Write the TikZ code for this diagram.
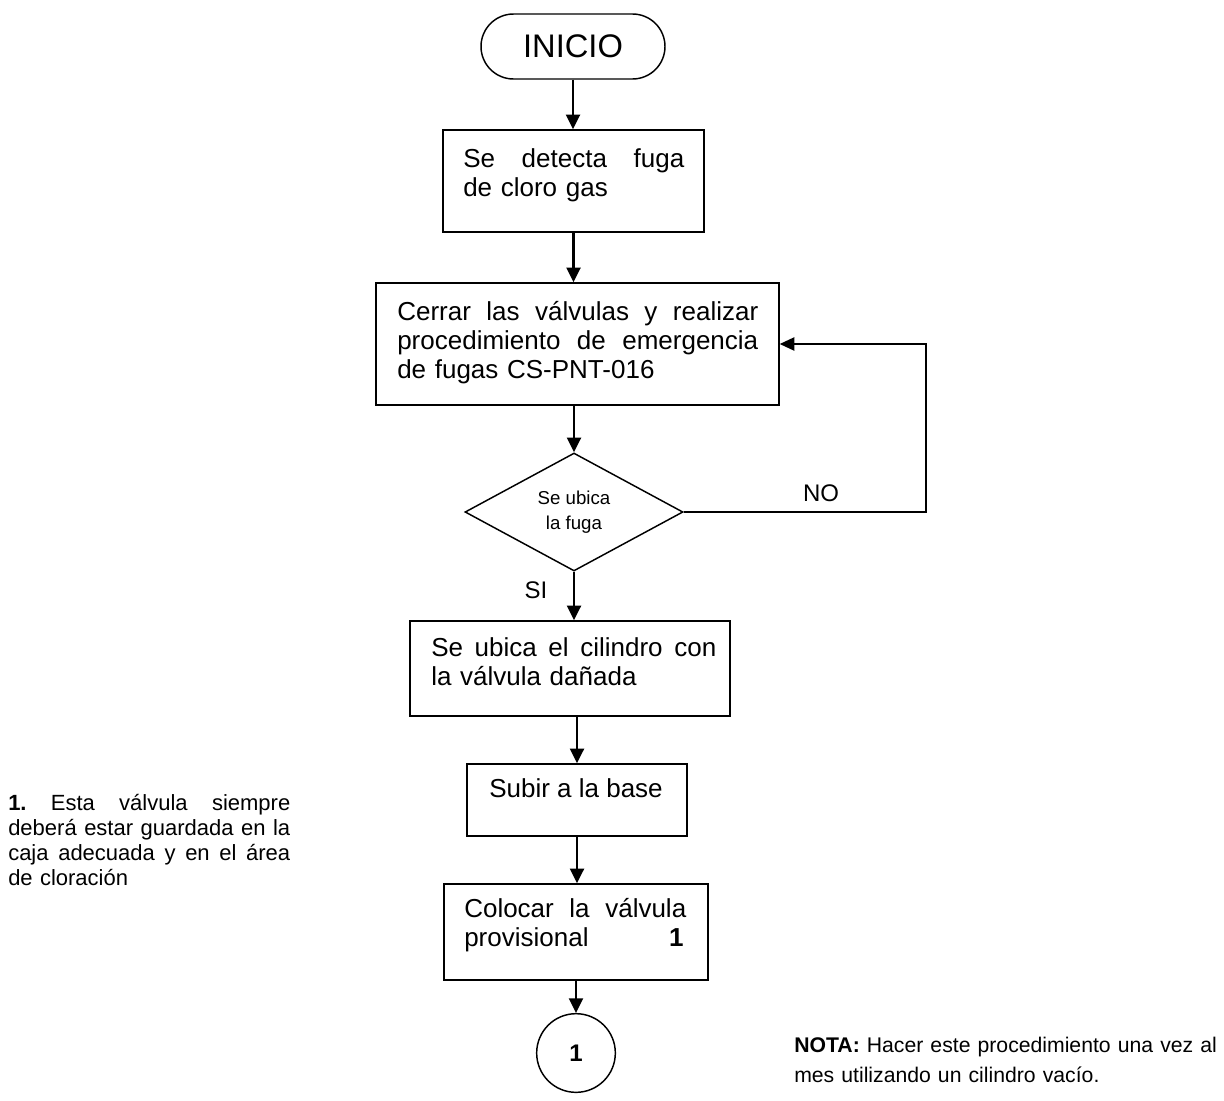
\documentclass[tikz,border=0pt]{standalone}
\usepackage{fontspec}
\setmainfont{Liberation Sans}
\usetikzlibrary{arrows.meta,shapes.misc,shapes.geometric}
\newcommand{\jline}[2]{\leavevmode\hbox to #1{#2}}
\begin{document}
\begin{tikzpicture}[x=0.75pt,y=-0.75pt,
  box/.style={draw, line width=1.1pt, rectangle, inner sep=0pt},
  arr/.style={line width=1.7pt, -{Triangle[length=11pt,width=10.5pt]}},
  conn/.style={line width=1.1pt},
  body/.style={inner sep=0pt, anchor=base west, align=left, font=\fontsize{19.5}{22}\selectfont},
  note/.style={inner sep=0pt, anchor=base west, align=left, font=\fontsize{16.5}{18.75}\selectfont},
  lbl/.style={inner sep=0pt, font=\fontsize{18}{21}\selectfont},
]
\useasboundingbox (0,0) rectangle (1224,1100);

% start
\node[rounded rectangle, draw, line width=1.1pt, minimum width=138pt, minimum height=48.75pt,
      inner sep=0pt, font=\fontsize{24.5}{28}\selectfont] (inicio) at (573,46.5) {INICIO};

% box 1
\node[box, minimum width=195.75pt, minimum height=76.5pt] (b1) at (573.5,181) {};
\node[body, text width=165.75pt] (t1) at (463,167)
  {\jline{165.75pt}{Se\hfill detecta\hfill fuga}\\de cloro gas};

% box 2
\node[box, minimum width=302.25pt, minimum height=91.5pt] (b2) at (577.5,344) {};
\node[body, text width=270.75pt] (t2) at (397,320)
  {\jline{270.75pt}{Cerrar\hfill las\hfill válvulas\hfill y\hfill realizar}\\
   \jline{270.75pt}{procedimiento\hfill de\hfill emergencia}\\
   de fugas CS-PNT-016};

% decision
\node[diamond, draw, line width=1.1pt, minimum width=163.5pt, minimum height=88.5pt,
      inner sep=0pt, shape aspect=2, align=center,
      font=\fontsize{14}{18.5}\selectfont] (dia) at (574,512) {Se ubica\\la fuga};

% box 3
\node[box, minimum width=240pt, minimum height=71.25pt] (b3) at (570,668.5) {};
\node[body, text width=213.75pt] (t3) at (431,656)
  {\jline{213.75pt}{Se\hfill ubica\hfill el\hfill cilindro\hfill con}\\la válvula dañada};

% box 4
\node[box, minimum width=165pt, minimum height=54pt] (b4) at (577,800) {};
\node[body, anchor=base] (t4) at (576,797) {Subir a la base};

% box 5
\node[box, minimum width=198pt, minimum height=72pt] (b5) at (576,932) {};
\node[body, text width=166.5pt] (t5) at (464,917)
  {\jline{166.5pt}{Colocar\hfill la\hfill válvula}\\
   \jline{166.5pt}{provisional\hfill\textbf{1}\hspace*{2pt}}};

% connector
\node[circle, draw, line width=1.1pt, minimum size=59pt, inner sep=0pt,
      font=\bfseries\fontsize{18}{20}\selectfont] (c1) at (576,1053) {1};

% arrows
\draw[arr] (inicio.south) -- (inicio.south |- b1.north);
\draw[arr] (b1.south) -- (b1.south |- b2.north);
\draw[arr] (b2.south -| dia.north) -- (dia.north);
\draw[arr] (dia.south) -- (dia.south |- b3.north);
\draw[arr] (b3.south -| b4.north) -- (b4.north);
\draw[arr] (b4.south) -- (b4.south |- b5.north);
\draw[arr] (b5.south) -- (b5.south |- c1.north);

% feedback loop
\coordinate (fbx) at (926,512);
\draw[conn, -{Triangle[length=11pt,width=10pt]}] (dia.east) -- (fbx) |- (b2.east);

% labels
\node[lbl] (no) at (821,493) {NO};
\node[lbl] (si) at (536,590) {SI};

% notes
\node[note, text width=211.5pt] (n1) at (8,810)
  {\jline{211.5pt}{\textbf{1.}\hfill Esta\hfill válvula\hfill siempre}\\
   \jline{211.5pt}{deberá\hfill estar\hfill guardada\hfill en\hfill la}\\
   \jline{211.5pt}{caja\hfill adecuada\hfill y\hfill en\hfill el\hfill área}\\
   de cloración};
\node[note, text width=320pt, font=\fontsize{15.9}{22.5}\selectfont] (nota) at (794,1052)
  {\textbf{NOTA:} Hacer este procedimiento una vez al\\mes utilizando un cilindro vacío.};
\end{tikzpicture}
\end{document}
